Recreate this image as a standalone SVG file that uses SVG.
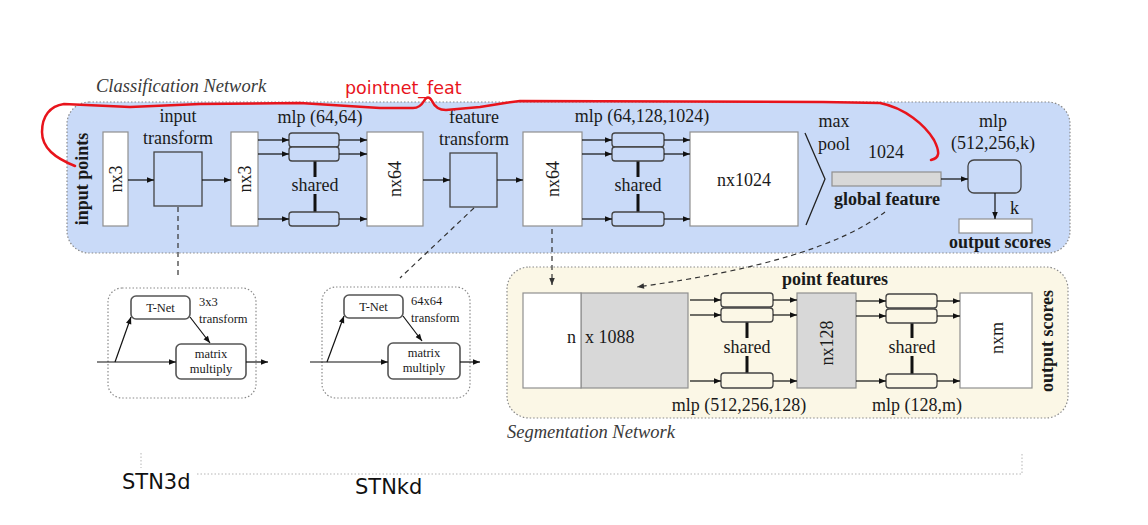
<svg xmlns="http://www.w3.org/2000/svg" width="1148" height="525" viewBox="0 0 1148 525">
<style>
.serif{font-family:"Liberation Serif","Times New Roman",serif;fill:#1a1a1a}
.t18{font-size:18px}
.t12{font-size:12.5px}
.b{font-weight:bold}
.it{font-style:italic;fill:#3a3a3a}
.sans{font-family:"DejaVu Sans","Liberation Sans",sans-serif}
.mid{text-anchor:middle}
.region{stroke:#8a8a8a;stroke-width:1.2;stroke-dasharray:1.5 2}
.wbox{fill:#fff;stroke:#8f8f8f;stroke-width:1.2}
.gbox{fill:#d8d8d8;stroke:#8f8f8f;stroke-width:1.2}
.bbox{fill:#c9daf8;stroke:#444;stroke-width:1.3}
.ybox{fill:#fbf7e6;stroke:#444;stroke-width:1.3}
.tbox{fill:#fff;stroke:#555;stroke-width:1.6}
.arr{stroke:#111;stroke-width:1.2;fill:none;marker-end:url(#ah)}
.thick{stroke:#111;stroke-width:3}
.dash{stroke:#333;stroke-width:1.2;stroke-dasharray:5 4;fill:none}
</style>
<defs>
<marker id="ah" viewBox="0 0 10 10" refX="10" refY="5" markerWidth="8" markerHeight="7" markerUnits="userSpaceOnUse" orient="auto"><path d="M0,1 L10,5 L0,9 z" fill="#111"/></marker>
<marker id="ahd" viewBox="0 0 10 10" refX="10" refY="5" markerWidth="8" markerHeight="7" markerUnits="userSpaceOnUse" orient="auto"><path d="M0,1 L10,5 L0,9 z" fill="#333"/></marker>
</defs>
<rect width="1148" height="525" fill="#fff"/>

<!-- Regions -->
<g id="classification-network">
<rect class="region" x="67" y="102" width="1003" height="151" rx="22" fill="#c9daf8"/>
<text class="serif it" x="96" y="92" style="font-size:18.5px">Classification Network</text>
</g>
<g id="segmentation-network">
<rect class="region" x="507" y="267" width="561" height="151" rx="22" fill="#fbf7e6"/>
<text class="serif it" x="507" y="438" style="font-size:18.5px">Segmentation Network</text>
</g>
<g id="stn3d-region">
<rect class="region" x="108" y="288" width="148" height="110" rx="14" fill="#fff"/>
</g>
<g id="stnkd-region">
<rect class="region" x="322" y="287" width="148" height="111" rx="14" fill="#fff"/>
</g>

<!-- Classification nodes -->
<g id="input-points"><text class="serif t18 b mid" transform="translate(82,179) rotate(-90)" dy="6">input points</text></g>
<g id="nx3-a"><rect class="wbox" x="103" y="132" width="25" height="94"/><text class="serif t18 mid" transform="translate(115.5,179) rotate(-90)" dy="6">nx3</text></g>
<g id="input-transform">
<text class="serif t18 mid" x="178" y="122">input</text>
<text class="serif t18 mid" x="178" y="144">transform</text>
<rect class="bbox" x="154" y="152" width="48" height="54"/>
</g>
<g id="nx3-b"><rect class="wbox" x="231" y="132" width="27" height="94"/><text class="serif t18 mid" transform="translate(244.5,179) rotate(-90)" dy="6">nx3</text></g>
<g id="mlp-64-64">
<text class="serif t18 mid" x="320" y="123">mlp (64,64)</text>
<line class="thick" x1="315" y1="161" x2="315" y2="177"/>
<line class="thick" x1="315" y1="194" x2="315" y2="212"/>
<rect class="bbox" x="289" y="133" width="50" height="14" rx="3"/>
<rect class="bbox" x="289" y="147" width="50" height="14" rx="3"/>
<rect class="bbox" x="289" y="212" width="50" height="14" rx="3"/>
<text class="serif t18 mid" x="315" y="191">shared</text>
</g>
<g id="nx64-a"><rect class="wbox" x="367" y="132" width="56" height="94"/><text class="serif t18 mid" transform="translate(395,179) rotate(-90)" dy="6">nx64</text></g>
<g id="feature-transform">
<text class="serif t18 mid" x="474" y="123">feature</text>
<text class="serif t18 mid" x="474" y="145">transform</text>
<rect class="bbox" x="450" y="153" width="47" height="54"/>
</g>
<g id="nx64-b"><rect class="wbox" x="523" y="132" width="59" height="94"/><text class="serif t18 mid" transform="translate(552.5,179) rotate(-90)" dy="6">nx64</text></g>
<g id="mlp-64-128-1024">
<text class="serif t18 mid" x="642" y="122">mlp (64,128,1024)</text>
<line class="thick" x1="638" y1="161" x2="638" y2="177"/>
<line class="thick" x1="638" y1="194" x2="638" y2="212"/>
<rect class="bbox" x="612" y="133" width="52" height="14" rx="3"/>
<rect class="bbox" x="612" y="147" width="52" height="14" rx="3"/>
<rect class="bbox" x="612" y="212" width="52" height="14" rx="3"/>
<text class="serif t18 mid" x="638" y="191">shared</text>
</g>
<g id="nx1024"><rect class="wbox" x="690" y="132" width="108" height="94"/><text class="serif t18 mid" x="744" y="186">nx1024</text></g>
<g id="max-pool">
<polyline points="805,133 825,179 806,225" fill="none" stroke="#222" stroke-width="1.3"/>
<text class="serif t18 mid" x="834" y="127">max</text>
<text class="serif t18 mid" x="834" y="150">pool</text>
</g>
<g id="global-feature">
<text class="serif t18 mid" x="886" y="158">1024</text>
<rect class="gbox" x="832" y="172" width="109" height="14"/>
<text class="serif t18 b mid" x="887" y="205">global feature</text>
</g>
<g id="mlp-512-256-k">
<text class="serif t18 mid" x="993" y="127">mlp</text>
<text class="serif t18 mid" x="993" y="149">(512,256,k)</text>
<rect class="bbox" x="968" y="160" width="53" height="33" rx="6"/>
</g>
<g id="output-scores-cls">
<text class="serif t18" x="1010" y="214">k</text>
<rect class="wbox" x="959" y="219" width="73" height="14"/>
<text class="serif t18 b mid" x="1000" y="248">output scores</text>
</g>

<!-- STN3d -->
<g id="stn3d-tnet"><rect class="tbox" x="131" y="296" width="59" height="23" rx="5"/><text class="serif t12 mid" x="160.5" y="312">T-Net</text></g>
<g id="stn3d-label"><text class="serif t12" x="199" y="306">3x3</text><text class="serif t12" x="199" y="323">transform</text></g>
<g id="stn3d-matmul"><rect class="tbox" x="176" y="344" width="70" height="35" rx="5"/><text class="serif t12 mid" x="211" y="358">matrix</text><text class="serif t12 mid" x="211" y="373">multiply</text></g>
<!-- STNkd -->
<g id="stnkd-tnet"><rect class="tbox" x="344" y="295" width="59" height="23" rx="5"/><text class="serif t12 mid" x="373.5" y="311">T-Net</text></g>
<g id="stnkd-label"><text class="serif t12" x="411" y="305">64x64</text><text class="serif t12" x="411" y="322">transform</text></g>
<g id="stnkd-matmul"><rect class="tbox" x="388" y="343" width="72" height="36" rx="5"/><text class="serif t12 mid" x="424" y="357">matrix</text><text class="serif t12 mid" x="424" y="372">multiply</text></g>

<!-- Segmentation nodes -->
<g id="n-x-1088">
<rect class="gbox" x="581" y="293" width="107" height="95"/>
<rect class="wbox" x="523" y="293" width="58" height="95"/>
<text class="serif t18" x="576" y="343" text-anchor="end">n</text>
<text class="serif t18" x="585" y="343">x 1088</text>
</g>
<g id="point-features"><text class="serif t18 b mid" x="835" y="285">point features</text></g>
<g id="mlp-512-256-128">
<line class="thick" x1="747" y1="322" x2="747" y2="338"/>
<line class="thick" x1="747" y1="356" x2="747" y2="373"/>
<rect class="ybox" x="721" y="293" width="52" height="14" rx="3"/>
<rect class="ybox" x="721" y="308" width="52" height="14" rx="3"/>
<rect class="ybox" x="721" y="373" width="52" height="15" rx="3"/>
<text class="serif t18 mid" x="747" y="353">shared</text>
<text class="serif t18 mid" x="739" y="411">mlp (512,256,128)</text>
</g>
<g id="nx128"><rect class="gbox" x="797" y="293" width="59" height="95"/><text class="serif t18 mid" transform="translate(827,343) rotate(-90)" dy="6">nx128</text></g>
<g id="mlp-128-m">
<line class="thick" x1="912" y1="323" x2="912" y2="338"/>
<line class="thick" x1="912" y1="356" x2="912" y2="374"/>
<rect class="ybox" x="886" y="294" width="51" height="14" rx="3"/>
<rect class="ybox" x="886" y="309" width="51" height="14" rx="3"/>
<rect class="ybox" x="886" y="374" width="51" height="14" rx="3"/>
<text class="serif t18 mid" x="912" y="353">shared</text>
<text class="serif t18 mid" x="917" y="411">mlp (128,m)</text>
</g>
<g id="nxm"><rect class="wbox" x="960" y="293" width="72" height="95"/><text class="serif t18 mid" transform="translate(997,338) rotate(-90)" dy="6">nxm</text></g>
<g id="output-scores-seg"><text class="serif t18 b mid" transform="translate(1047,341) rotate(-90)" dy="6">output scores</text></g>

<!-- Connectors -->
<g id="connectors">
<line class="arr" x1="128" y1="180" x2="154" y2="180"/>
<line class="arr" x1="202" y1="180" x2="231" y2="180"/>
<line class="arr" x1="258" y1="140" x2="289" y2="140"/>
<line class="arr" x1="258" y1="154" x2="289" y2="154"/>
<line class="arr" x1="258" y1="219" x2="289" y2="219"/>
<line class="arr" x1="339" y1="140" x2="367" y2="140"/>
<line class="arr" x1="339" y1="154" x2="367" y2="154"/>
<line class="arr" x1="339" y1="219" x2="367" y2="219"/>
<line class="arr" x1="423" y1="180" x2="450" y2="180"/>
<line class="arr" x1="497" y1="180" x2="523" y2="180"/>
<line class="arr" x1="582" y1="140" x2="612" y2="140"/>
<line class="arr" x1="582" y1="154" x2="612" y2="154"/>
<line class="arr" x1="582" y1="219" x2="612" y2="219"/>
<line class="arr" x1="664" y1="140" x2="690" y2="140"/>
<line class="arr" x1="664" y1="154" x2="690" y2="154"/>
<line class="arr" x1="664" y1="219" x2="690" y2="219"/>
<line class="arr" x1="941" y1="179" x2="968" y2="179"/>
<line class="arr" x1="995" y1="193" x2="995" y2="219"/>
<!-- segmentation -->
<line class="arr" x1="690" y1="300" x2="721" y2="300"/>
<line class="arr" x1="690" y1="315" x2="721" y2="315"/>
<line class="arr" x1="690" y1="381" x2="721" y2="381"/>
<line class="arr" x1="773" y1="300" x2="797" y2="300"/>
<line class="arr" x1="773" y1="315" x2="797" y2="315"/>
<line class="arr" x1="773" y1="381" x2="797" y2="381"/>
<line class="arr" x1="856" y1="301" x2="886" y2="301"/>
<line class="arr" x1="856" y1="316" x2="886" y2="316"/>
<line class="arr" x1="856" y1="381" x2="886" y2="381"/>
<line class="arr" x1="937" y1="301" x2="960" y2="301"/>
<line class="arr" x1="937" y1="316" x2="960" y2="316"/>
<line class="arr" x1="937" y1="381" x2="960" y2="381"/>
<!-- STN3d -->
<line class="arr" x1="97" y1="362" x2="176" y2="362"/>
<line class="arr" x1="115" y1="362" x2="131" y2="317"/>
<line class="arr" x1="190" y1="317" x2="210" y2="343"/>
<line class="arr" x1="246" y1="362" x2="268" y2="362"/>
<!-- STNkd -->
<line class="arr" x1="310" y1="362" x2="388" y2="362"/>
<line class="arr" x1="327" y1="362" x2="344" y2="316"/>
<line class="arr" x1="403" y1="316" x2="422" y2="341"/>
<line class="arr" x1="460" y1="362" x2="480" y2="362"/>
<!-- dashed links -->
<line class="dash" x1="178" y1="207" x2="178" y2="276"/>
<line class="dash" x1="474" y1="208" x2="400" y2="278"/>
<line class="dash" x1="552" y1="229" x2="552" y2="285" style="marker-end:url(#ahd)"/>
<path class="dash" d="M885,212 Q820,262 637,287" style="marker-end:url(#ahd)"/>
</g>

<!-- Annotations -->
<g id="pointnet-feat-annotation">
<path d="M75,166 C55,158 42,148 42,132 C42,116 50,106 64,104 L130,107 L200,104 L300,103 L380,108 L413,108 Q420,108 424,101 Q428,94 432,101 Q436,110 446,110 L480,107 L505,103 L520,101 L823,102 L880,103 C905,108 925,125 934,140 C940,152 940,158 931,160" fill="none" stroke="#e8141c" stroke-width="2.5" stroke-linejoin="round" stroke-linecap="round"/>
<text class="sans" x="345" y="94" style="font-size:17.5px;fill:#e8141c">pointnet_feat</text>
</g>
<g id="stn-bracket">
<polyline points="141,453 141,474 1022,474 1022,453" fill="none" stroke="#b5b5b5" stroke-width="1" stroke-dasharray="1.5 2"/>
<rect x="121" y="468" width="74" height="24" fill="#fff"/>
<text class="sans" x="122" y="489" style="font-size:21px;fill:#111">STN3d</text>
<text class="sans" x="355" y="494" style="font-size:21px;fill:#111">STNkd</text>
</g>
</svg>
